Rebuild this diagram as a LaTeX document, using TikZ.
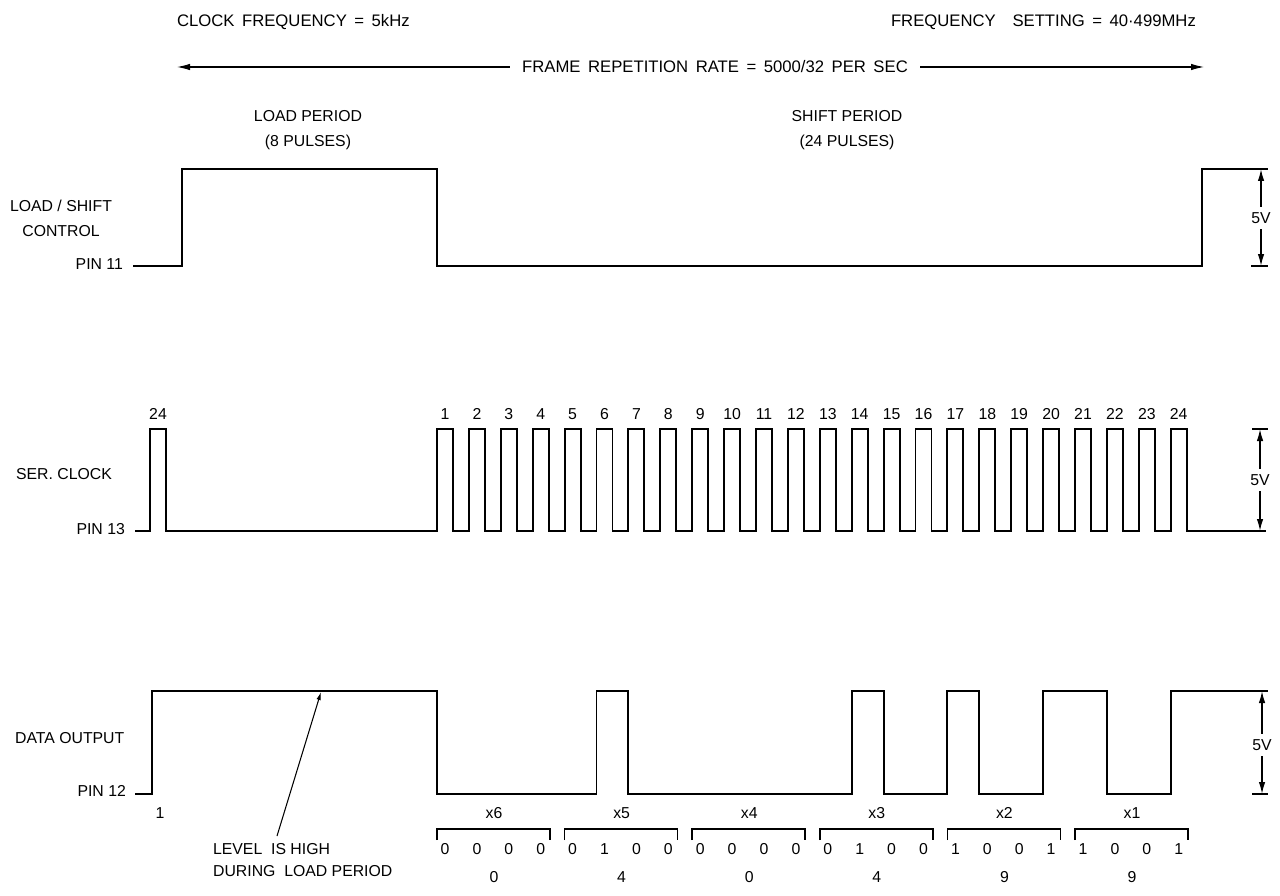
\documentclass[tikz,border=0pt]{standalone}
\usepackage{fontspec}
\setmainfont{Liberation Sans}
\usetikzlibrary{arrows.meta}
\newcommand\hdrfont{\fontsize{9.5}{12}\selectfont\spaceskip=0.45em\relax}

\begin{document}
\begin{tikzpicture}[x=0.02cm, y=-0.02cm,
    wave/.style={line width=1.1pt, line join=miter},
    tick/.style={line width=1pt},
    brk/.style={line width=0.9pt},
    txt/.style={inner sep=1pt, font=\fontsize{9}{12}\selectfont},
    header/.style={inner sep=1pt, font=\hdrfont},
    twoline/.style={txt, align=center, font=\fontsize{9}{14.2}\selectfont},
    farrow/.style={line width=0.6pt, -{Latex[length=2.6mm, width=1.3mm]}},
    varrow/.style={line width=0.8pt, -{Latex[length=2.4mm, width=1.3mm]}},
    narrow/.style={line width=0.6pt, -{Latex[length=1.6mm, width=0.9mm]}}]
    \fill[white] (0,0) rectangle (1280,895);
    \useasboundingbox (0,0) rectangle (1280,895);

    % Header
    \node[header, anchor=west] (clkfreq) at (175,22) {CLOCK FREQUENCY = 5kHz};
    \node[header, anchor=east] (freqset) at (1198,22) {FREQUENCY\quad SETTING = 40·499MHz};
    \node[header, inner xsep=7pt] (frame) at (715,67) {FRAME REPETITION RATE = 5000/32 PER SEC};
    \coordinate (frameL) at (177,67);
    \coordinate (frameR) at (1204,67);
    \draw[farrow] (frame.west) -- (frameL);
    \draw[farrow] (frame.east) -- (frameR);
    \node[twoline] (loadper) at (308,130) {LOAD PERIOD\\(8 PULSES)};
    \node[twoline] (shiftper) at (847,130) {SHIFT PERIOD\\(24 PULSES)};

    % Signal names
    \node[twoline] (lsctl) at (61,218) {LOAD / SHIFT\\CONTROL};
    \node[txt, anchor=east] (pin11) at (125,264) {PIN 11};
    \node[txt, anchor=west] (serclk) at (14,474) {SER. CLOCK};
    \node[txt, anchor=east] (pin13) at (127,529) {PIN 13};
    \node[txt, anchor=west] (dataout) at (13,738) {DATA OUTPUT};
    \node[txt, anchor=east] (pin12) at (128,791) {PIN 12};

    % Load / shift control
    \draw[wave] (133,266) -- (182,266) -- (182,169) -- (437,169) -- (437,266)
        -- (1202,266) -- (1202,169) -- (1266,169);
    \draw[tick] (1251,169) -- (1268,169);
    \draw[tick] (1251,266) -- (1268,266);
    \node[txt, inner ysep=3pt] (vls) at (1261,218) {5V};
    \coordinate (lsTop) at (1261,169);
    \coordinate (lsBot) at (1261,266);
    \draw[varrow] (vls.north) -- (lsTop);
    \draw[varrow] (vls.south) -- (lsBot);

    % Serial clock
    \draw[wave] (135,531) -- (150,531) -- (150,429) -- (166,429) -- (166,531) -- (437,531)
        \foreach \k in {0,...,23} { -- ({437+31.9*\k},531) -- ({437+31.9*\k},429)
        -- ({453+31.9*\k},429) -- ({453+31.9*\k},531) } -- (1266,531);
    \node[txt] (prev24) at (158,414) {24};
    \foreach \k in {1,...,24}
        \node[txt] (clk\k) at ({445+31.9*(\k-1)},414) {\k};
    \draw[tick] (1252,429) -- (1268,429);
    \node[txt, inner ysep=3pt] (vclk) at (1260,480) {5V};
    \coordinate (clkTop) at (1260,429);
    \coordinate (clkBot) at (1260,531);
    \draw[varrow] (vclk.north) -- (clkTop);
    \draw[varrow] (vclk.south) -- (clkBot);

    % Data output
    \draw[wave] (135,794) -- (152,794) -- (152,691) -- (437,691) -- (437,794)
        \foreach \a/\b in {5/6, 13/14, 16/17, 19/21} { -- ({437+31.9*\a},794)
        -- ({437+31.9*\a},691) -- ({437+31.9*\b},691) -- ({437+31.9*\b},794) }
        -- ({437+31.9*23},794) -- ({437+31.9*23},691) -- (1266,691);
    \draw[tick] (1252,691) -- (1268,691);
    \draw[tick] (1252,794) -- (1268,794);
    \node[txt, inner ysep=3pt] (vdata) at (1262,745) {5V};
    \coordinate (dataTop) at (1262,691);
    \coordinate (dataBot) at (1262,794);
    \draw[varrow] (vdata.north) -- (dataTop);
    \draw[varrow] (vdata.south) -- (dataBot);
    \node[txt] (first) at (160,813) {1};

    % Note on the load period level
    \node[txt, align=left, anchor=north west, font=\fontsize{9}{12.5}\selectfont] (lvlnote)
        at (211,841) {LEVEL\ \ IS HIGH\\DURING\ \ LOAD PERIOD};
    \coordinate (highpt) at (321,692);
    \draw[narrow] (lvlnote.north west) ++(66,-5) -- (highpt);

    % Digit brackets
    \foreach \g/\xn/\bits/\dec in {0/6/{0,0,0,0}/0, 1/5/{0,1,0,0}/4, 2/4/{0,0,0,0}/0,
                                   3/3/{0,1,0,0}/4, 4/2/{1,0,0,1}/9, 5/1/{1,0,0,1}/9} {
        \draw[brk] ({437+127.6*\g},840) -- ({437+127.6*\g},829)
            -- ({550+127.6*\g},829) -- ({550+127.6*\g},840);
        \node[txt] (xg\xn) at ({494+127.6*\g},813) {x\xn};
        \node[txt] (dec\xn) at ({494+127.6*\g},877) {\dec};
        \foreach \b [count=\j from 0] in \bits
            \node[txt] (bit\xn\j) at ({445+127.6*\g+31.9*\j},849) {\b};
    }
\end{tikzpicture}
\end{document}
